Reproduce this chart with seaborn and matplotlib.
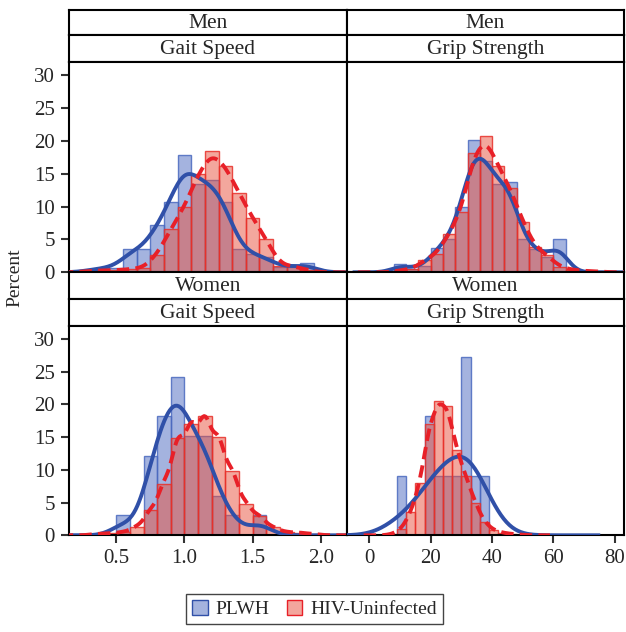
import numpy as np
import pandas as pd
import seaborn as sns
import matplotlib.pyplot as plt
from matplotlib.patches import Patch

# Bin centres and bar heights (percent)
men_gait_bins = [0.3, 0.4, 0.5, 0.6, 0.7, 0.8, 0.9, 1.0, 1.1, 1.2, 1.3, 1.4, 1.5, 1.6, 1.7, 1.8, 1.9]
men_gait_plwh = [0.3, 0.7, 0.7, 3.5, 3.5, 7.2, 10.7, 17.8, 13.5, 14.0, 10.7, 3.5, 2.8, 2.3, 0.8, 0.8, 1.4]
men_gait_uninf = [0.2, 0.3, 0.3, 0.5, 0.6, 2.7, 6.6, 9.9, 15.0, 18.5, 16.2, 12.1, 8.2, 5.1, 1.0, 1.0, 0.3]

men_grip_bins = [10, 14, 18, 22, 26, 30, 34, 38, 42, 46, 50, 54, 58, 62, 66, 70, 74]
men_grip_plwh = [1.3, 0.5, 1.0, 3.7, 5.0, 9.9, 20.2, 17.0, 13.5, 13.8, 5.0, 3.5, 2.3, 5.0, 0.0, 0.0, 0.0]
men_grip_uninf = [0.3, 0.5, 1.8, 2.8, 5.9, 9.2, 18.2, 20.7, 16.1, 12.8, 7.7, 3.8, 2.6, 0.8, 0.4, 0.2, 0.15]

women_gait_bins = [0.35, 0.45, 0.55, 0.65, 0.75, 0.85, 0.95, 1.05, 1.15, 1.25, 1.35, 1.45, 1.55, 1.65, 1.75, 1.85, 1.95]
women_gait_plwh = [0.0, 0.0, 3.03, 0.0, 12.12, 18.18, 24.24, 15.15, 15.15, 6.06, 3.03, 0.0, 3.03, 0.0, 0.0, 0.0, 0.0]
women_gait_uninf = [0.2, 0.3, 0.5, 1.3, 3.8, 7.9, 14.9, 17.0, 18.3, 15.0, 9.8, 4.8, 2.95, 1.2, 0.5, 0.4, 0.2]

women_grip_bins = [7.5, 10.5, 13.5, 16.5, 19.5, 22.5, 25.5, 28.5, 31.5, 34.5, 37.5, 40.5, 43.5, 46.5, 49.5]
women_grip_plwh = [0.0, 9.09, 0.0, 0.0, 18.18, 9.09, 9.09, 9.09, 27.27, 9.09, 9.09, 0.0, 0.0, 0.0, 0.0]
women_grip_uninf = [0.2, 1.0, 3.5, 8.0, 17.0, 20.6, 19.8, 13.0, 9.0, 5.0, 2.0, 0.8, 0.4, 0.2, 0.1]

groups = ['PLWH', 'HIV-Uninfected']

sns.set_style('ticks')
plt.rcParams['font.family'] = ['Liberation Serif', 'DejaVu Serif']
plt.rcParams['axes.linewidth'] = 1.5

blue = '#4a69c0'
red = '#e8503c'
blue_line = '#3050a8'
red_line = '#e82028'

fig = plt.figure(figsize=(6.26, 6.32), dpi=100)

W, H = 626, 632
def box(x0, x1, y0, y1):
    # pixel box -> figure fraction rect
    return [x0 / W, 1 - y1 / H, (x1 - x0) / W, (y1 - y0) / H]

cols = [(69, 346.7), (346.7, 624)]
rows = [dict(top=(10, 35), sub=(35, 62), panel=(62, 272.3), label='Men'),
        dict(top=(272.3, 299), sub=(299, 326), panel=(326, 535.3), label='Women')]
titles = ['Gait Speed', 'Grip Strength']
xlims = [(0.153, 2.19), (-7.4, 83)]

data = {
    (0, 0): (men_gait_bins, men_gait_plwh, men_gait_uninf, 0.1),
    (0, 1): (men_grip_bins, men_grip_plwh, men_grip_uninf, 4),
    (1, 0): (women_gait_bins, women_gait_plwh, women_gait_uninf, 0.1),
    (1, 1): (women_grip_bins, women_grip_plwh, women_grip_uninf, 3),
}
# kernel bandwidth factors (PLWH, uninfected)
bw = {(0, 0): (0.45, 0.4), (0, 1): (0.45, 0.4), (1, 0): (0.6, 0.3), (1, 1): (1.1, 0.4)}


def strip(rect, text):
    sax = fig.add_axes(rect)
    sax.set_xticks([])
    sax.set_yticks([])
    for s in sax.spines.values():
        s.set_linewidth(1.5)
        s.set_color('black')
    sax.text(0.5, 0.45, text, ha='center', va='center', fontsize=15.5, transform=sax.transAxes)


for r, row in enumerate(rows):
    for c, (x0, x1) in enumerate(cols):
        strip(box(x0, x1, *row['top']), row['label'])
        strip(box(x0, x1, *row['sub']), titles[c])
        ax = fig.add_axes(box(x0, x1, *row['panel']))

        centers, plwh, uninf, width = data[(r, c)]
        edges = (np.append(np.array(centers) - width / 2, centers[-1] + width / 2)).tolist()
        df = pd.DataFrame({'x': centers, 'PLWH': plwh, 'HIV-Uninfected': uninf})

        sns.histplot(data=df, x='x', weights='PLWH', bins=edges, stat='count',
                     kde=True, kde_kws=dict(bw_adjust=bw[(r, c)][0], cut=3),
                     color=blue, alpha=0.5, edgecolor=(0.29, 0.41, 0.75, 0.85),
                     linewidth=1.0, line_kws=dict(lw=2.8), ax=ax)
        sns.histplot(data=df, x='x', weights='HIV-Uninfected', bins=edges, stat='count',
                     kde=True, kde_kws=dict(bw_adjust=bw[(r, c)][1], cut=3),
                     color=red, alpha=0.5, edgecolor=(0.91, 0.19, 0.16, 0.85),
                     linewidth=1.0, line_kws=dict(lw=2.8), ax=ax)

        # curves on top of both sets of bars
        ax.lines[0].set_color(blue_line)
        ax.lines[1].set_color(red_line)
        ax.lines[1].set_dashes([3.2, 1.6])
        for ln in ax.lines:
            ln.set_zorder(3)
            ln.set_solid_capstyle('butt')

        ax.set_xlim(*xlims[c])
        ax.set_ylim(0, 32)
        ax.set_xlabel('')
        ax.set_ylabel('')
        for s in ax.spines.values():
            s.set_linewidth(1.5)
            s.set_color('black')
        ax.tick_params(length=6, width=1.5, labelsize=15, color='#333333', pad=4)

        if c == 0:
            ax.set_yticks(range(0, 31, 5))
        else:
            ax.set_yticks([])
        if r == 1:
            ax.set_xticks([0.5, 1.0, 1.5, 2.0] if c == 0 else [0, 20, 40, 60, 80])
            if c == 0:
                ax.set_xticklabels(['0.5', '1.0', '1.5', '2.0'])
        else:
            ax.set_xticks([])

fig.text(0.024, 0.56, 'Percent', rotation=90, ha='center', va='center', fontsize=14)

handles = [Patch(facecolor=(0.29, 0.41, 0.75, 0.5), edgecolor=blue_line, label=groups[0]),
           Patch(facecolor=(0.91, 0.31, 0.24, 0.5), edgecolor=red_line, label=groups[1])]
fig.legend(handles=handles, loc='lower center', bbox_to_anchor=(0.5024, -0.003), ncol=2,
           frameon=True, fancybox=False, edgecolor='#444444', framealpha=1,
           handlelength=0.8, handleheight=0.8, handletextpad=0.4, columnspacing=0.9,
           borderpad=0.3, fontsize=14)

fig.savefig('out.png', dpi=100)
